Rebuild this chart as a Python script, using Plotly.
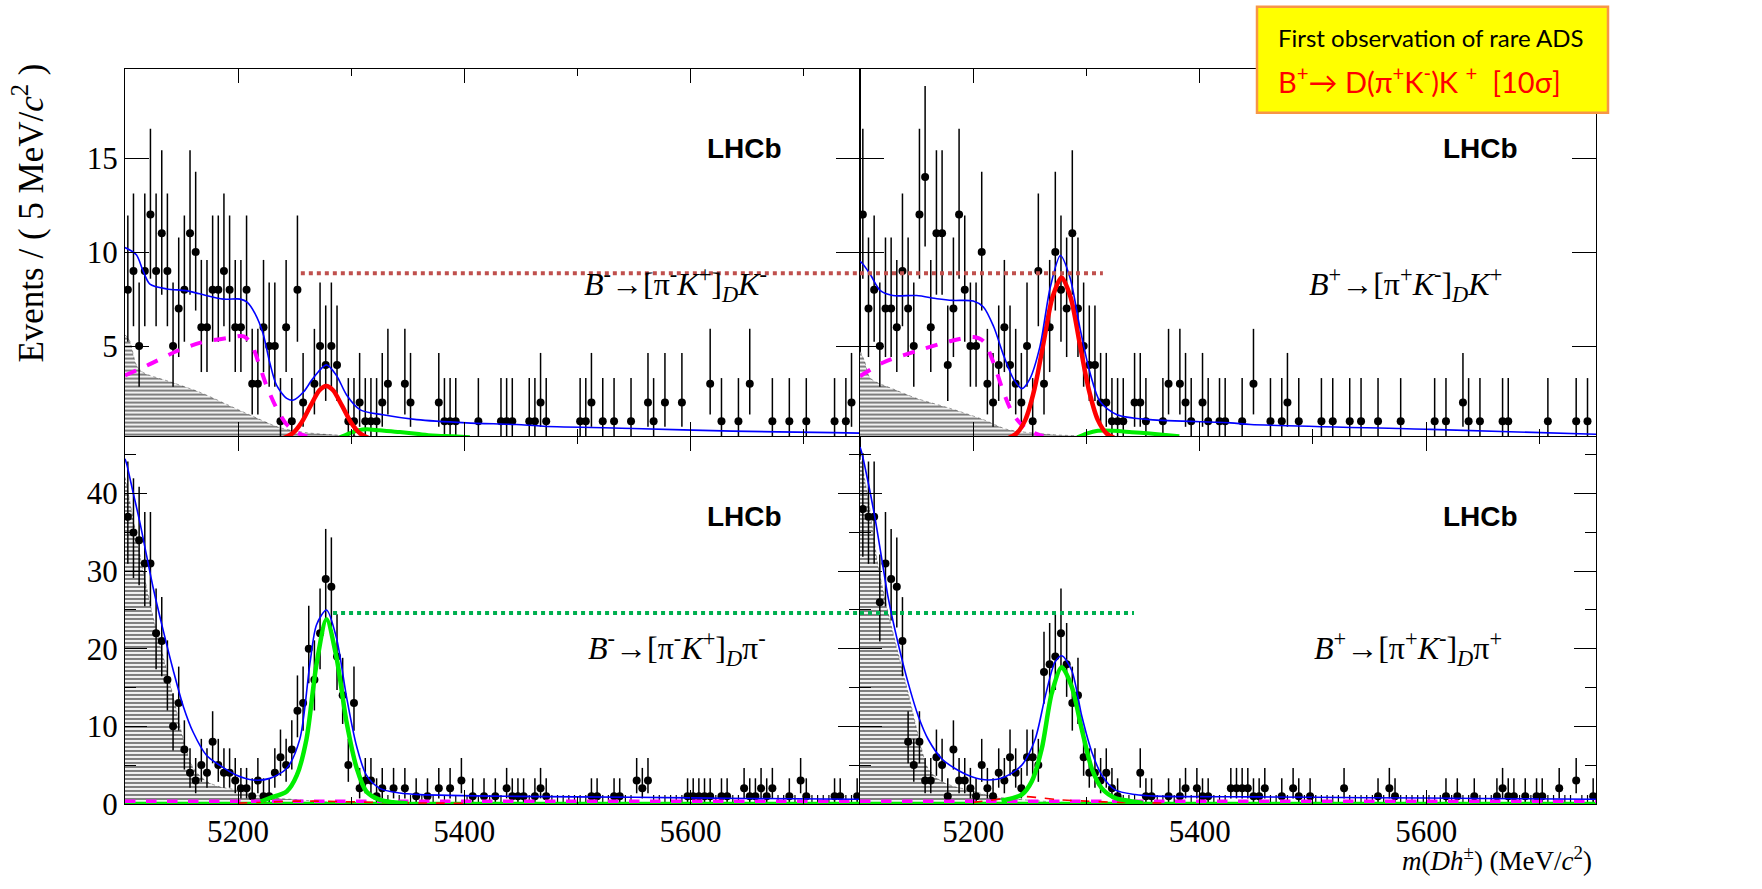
import math
import numpy as np
import plotly.graph_objects as go

W, H = 1762, 889

# 5 MeV/c^2 bins between 5100 and 5750 MeV/c^2
bin_centres = np.arange(5102.5, 5750.0, 5.0)

# ---- candidate counts per bin ----
counts_dk_minus = [
    8, 9, 5, 9, 12, 9, 11, 9, 5, 7,
    8, 11, 10, 6, 6, 8, 8, 9, 8, 6,
    6, 8, 3, 3, 6, 5, 5, 1, 6, 1,
    8, 2, 0, 3, 5, 4, 5, 4, 0, 1,
    1, 2, 1, 1, 1, 2, 3, 0, 0, 3,
    2, 0, 0, 0, 0, 2, 1, 1, 1, 0,
    0, 0, 1, 0, 0, 0, 1, 1, 1, 0,
    0, 1, 1, 2, 1, 0, 0, 0, 0, 0,
    1, 1, 2, 0, 1, 0, 1, 0, 0, 1,
    0, 0, 2, 1, 0, 2, 0, 0, 2, 0,
    0, 0, 0, 3, 0, 1, 0, 0, 1, 0,
    3, 0, 0, 0, 1, 0, 0, 1, 0, 0,
    1, 0, 0, 0, 0, 1, 0, 1, 2, 0,
]
counts_dk_plus = [
    12, 7, 8, 5, 7, 7, 6, 9, 7, 5,
    12, 14, 6, 11, 11, 4, 7, 12, 8, 5,
    5, 10, 3, 2, 4, 6, 4, 3, 2, 5,
    1, 9, 3, 6, 10, 8, 7, 11, 7, 5,
    4, 4, 2, 2, 1, 1, 1, 0, 2, 2,
    1, 0, 0, 1, 3, 0, 3, 2, 1, 0,
    2, 1, 0, 1, 1, 0, 0, 1, 0, 3,
    0, 0, 1, 0, 1, 2, 0, 1, 0, 0,
    0, 1, 0, 1, 0, 0, 1, 0, 1, 0,
    0, 1, 0, 0, 0, 1, 0, 0, 0, 0,
    0, 1, 0, 1, 0, 0, 2, 1, 0, 1,
    0, 0, 0, 1, 1, 0, 0, 0, 0, 0,
    0, 1, 0, 0, 0, 0, 1, 0, 1, 0,
]
counts_dpi_minus = [
    37, 35, 34, 31, 31, 22, 21, 16, 10, 13,
    7, 4, 3, 5, 4, 8, 5, 4, 4, 3,
    2, 2, 1, 3, 1, 1, 4, 6, 5, 7,
    12, 13, 20, 16, 22, 29, 28, 19, 14, 5,
    13, 2, 3, 3, 1, 2, 0, 2, 0, 2,
    0, 1, 0, 1, 0, 2, 0, 2, 0, 3,
    0, 1, 0, 1, 0, 1, 0, 2, 1, 1,
    1, 0, 1, 2, 1, 0, 0, 0, 0, 0,
    0, 0, 1, 1, 0, 0, 1, 1, 0, 0,
    3, 2, 3, 0, 0, 0, 0, 0, 0, 1,
    1, 1, 1, 1, 0, 1, 1, 0, 0, 2,
    1, 1, 2, 1, 2, 0, 0, 1, 0, 3,
    1, 0, 0, 0, 0, 1, 1, 0, 0, 1,
]
counts_dpi_plus = [
    38, 37, 37, 26, 31, 29, 28, 21, 8, 5,
    8, 3, 3, 6, 5, 1, 7, 3, 3, 2,
    1, 5, 2, 1, 4, 3, 6, 4, 2, 6,
    6, 5, 17, 18, 19, 22, 18, 13, 14, 6,
    4, 4, 3, 4, 2, 1, 0, 0, 0, 4,
    1, 1, 0, 0, 1, 0, 1, 2, 0, 2,
    1, 1, 0, 0, 0, 2, 2, 2, 2, 1,
    1, 2, 0, 0, 1, 0, 2, 1, 0, 1,
    0, 0, 0, 0, 0, 2, 0, 0, 0, 0,
    0, 1, 0, 2, 1, 0, 0, 0, 0, 0,
    0, 0, 0, 1, 0, 1, 0, 0, 1, 0,
    0, 0, 1, 2, 1, 1, 0, 1, 0, 1,
    1, 0, 0, 2, 0, 0, 3, 0, 0, 1,
]

# ---- fitted model components (mass, events per bin) ----
dk_minus_total_x = [5100, 5110, 5116, 5122, 5137, 5154, 5166, 5187, 5202, 5208, 5215, 5222, 5228,
                    5234, 5243, 5249, 5258, 5266, 5278, 5287, 5296, 5308, 5328, 5358, 5402, 5446,
                    5470, 5549, 5637, 5726, 5750]
dk_minus_total_y = [10.24, 9.86, 9.0, 8.3, 8.04, 7.95, 7.78, 7.5, 7.5, 7.34, 6.73, 5.69, 4.13,
                    2.92, 2.22, 2.13, 2.57, 3.26, 4.0, 3.44, 2.4, 1.61, 1.35, 1.09, 0.92, 0.83,
                    0.74, 0.62, 0.48, 0.40, 0.37]
dk_minus_sig_x = [5240, 5248, 5256, 5264, 5272, 5278, 5284, 5292, 5300, 5308, 5316]
dk_minus_sig_y = [0.10, 0.35, 0.93, 1.82, 2.65, 2.88, 2.65, 1.82, 0.93, 0.35, 0.10]
dk_minus_misid_x = [5290, 5298, 5306, 5314, 5325, 5343, 5360, 5372, 5390, 5405]
dk_minus_misid_y = [0.15, 0.35, 0.52, 0.58, 0.52, 0.43, 0.32, 0.25, 0.20, 0.15]
dk_minus_partial_x = [5100, 5122, 5146, 5166, 5190, 5205, 5212, 5219, 5225, 5234, 5243, 5252, 5261]
dk_minus_partial_y = [3.44, 4.04, 4.74, 5.17, 5.43, 5.52, 5.08, 3.96, 2.92, 1.70, 0.83, 0.40, 0.20]
dk_minus_dstar_x = [5100, 5104, 5110, 5116, 5140, 5166, 5190, 5210, 5237, 5260, 5284, 5310]
dk_minus_dstar_y = [5.6, 5.3, 4.0, 3.6, 3.1, 2.55, 1.9, 1.35, 0.66, 0.40, 0.28, 0.22]

dk_plus_total_x = [5100, 5101.5, 5109, 5118, 5129, 5150, 5168, 5182, 5200, 5209, 5218, 5227,
                   5235.5, 5243, 5250, 5259, 5268, 5277, 5285.5, 5294, 5303, 5312, 5327, 5356,
                   5427, 5445, 5604, 5750]
dk_plus_total_y = [9.5, 9.43, 8.82, 7.95, 7.69, 7.69, 7.52, 7.43, 7.4, 7.08, 6.04, 4.48,
                   3.26, 2.74, 3.26, 5.0, 8.12, 9.82, 8.64, 6.04, 3.61, 2.05, 1.35, 1.09,
                   0.92, 0.83, 0.57, 0.31]
dk_plus_sig_x = [5230, 5238, 5246, 5254, 5262, 5270, 5278, 5286, 5294, 5302, 5310, 5318, 5326]
dk_plus_sig_y = [0.08, 0.34, 1.08, 2.70, 5.15, 7.60, 8.65, 7.60, 5.15, 2.70, 1.08, 0.34, 0.08]
dk_plus_misid_x = [5292, 5300, 5310, 5324, 5340, 5356, 5370, 5382]
dk_plus_misid_y = [0.15, 0.35, 0.50, 0.50, 0.42, 0.35, 0.27, 0.20]
dk_plus_partial_x = [5100, 5120.6, 5150, 5179.4, 5200, 5209, 5217.8, 5226.6, 5235.5, 5247.3, 5262]
dk_plus_partial_y = [3.40, 4.13, 4.74, 5.26, 5.48, 5.26, 4.13, 2.57, 1.35, 0.57, 0.20]
dk_plus_dstar_x = [5100, 5104, 5109, 5130, 5150, 5179, 5209, 5230, 5268, 5300]
dk_plus_dstar_y = [4.74, 4.2, 3.3, 2.7, 2.22, 1.7, 1.09, 0.57, 0.30, 0.22]

dpi_minus_total_x = [5100, 5101.5, 5107.4, 5113.3, 5119.1, 5125, 5133.9, 5142.7, 5151.5, 5160.4,
                     5172.2, 5183.9, 5198.7, 5213.4, 5228.1, 5242.9, 5254.6, 5263.5, 5269.4,
                     5278.2, 5287, 5295.9, 5304.7, 5313.5, 5325.3, 5343, 5360.6, 5446, 5550,
                     5650, 5750]
dpi_minus_total_y = [44.5, 43.8, 40.0, 36.2, 32.0, 27.8, 22.3, 17.2, 12.6, 9.2,
                     6.24, 4.97, 3.7, 3.08, 3.29, 4.56, 8.35, 18.06, 23.1,
                     25.0, 21.4, 13.8, 7.5, 3.7, 2.0, 1.4, 1.2, 0.97, 0.85,
                     0.7, 0.6]
dpi_minus_sig_x = [5220, 5228, 5243, 5252, 5260.5, 5269.4, 5278.2, 5287, 5296, 5305, 5313.5,
                   5325, 5337, 5350]
dpi_minus_sig_y = [0.3, 0.76, 1.6, 3.7, 8.35, 18.06, 23.8, 18.9, 10.5, 4.56, 1.6, 0.54, 0.2, 0.05]
dpi_minus_dstar_x = [5100, 5107.4, 5116.2, 5125, 5133.9, 5142.7, 5151.5, 5160.4, 5172.2, 5183.9,
                     5198.7, 5213.4, 5231, 5251.7, 5272.4, 5300]
dpi_minus_dstar_y = [42.1, 36.6, 29.9, 24.0, 18.9, 13.8, 8.35, 4.6, 2.9, 2.2,
                     1.8, 1.2, 0.76, 0.55, 0.3, 0.1]
dpi_minus_kmisid_x = [5200, 5230, 5250, 5270, 5290, 5320, 5360, 5400]
dpi_minus_kmisid_y = [0.10, 0.25, 0.35, 0.35, 0.30, 0.20, 0.12, 0.08]

dpi_plus_total_x = [5100, 5101.5, 5107.4, 5113.3, 5119.2, 5125, 5133.8, 5142.7, 5151.5, 5160.3,
                    5172.2, 5183.9, 5198.7, 5213.4, 5228.1, 5242.9, 5254.6, 5263.5, 5272.3,
                    5278.2, 5287, 5295.9, 5304.7, 5313.6, 5325.3, 5343, 5360.6, 5450, 5550,
                    5650, 5750]
dpi_plus_total_y = [46.0, 45.3, 41.3, 36.8, 31.6, 26.5, 20.6, 15.5, 11.3, 8.3,
                    5.82, 4.56, 3.5, 3.08, 3.5, 5.0, 8.3, 13.8, 18.3,
                    19.1, 17.2, 11.3, 6.7, 3.7, 1.8, 1.2, 1.0, 0.9, 0.8,
                    0.7, 0.6]
dpi_plus_sig_x = [5225, 5242.9, 5251.7, 5260.5, 5269.4, 5278.2, 5287, 5295.9, 5304.7, 5313.6,
                  5325.3, 5337, 5350]
dpi_plus_sig_y = [0.4, 1.2, 2.9, 7.1, 14.3, 17.6, 15.1, 9.6, 4.56, 2.0, 0.76, 0.4, 0.1]
dpi_plus_dstar_x = [5100, 5107.4, 5116.2, 5125, 5134, 5143, 5152, 5160, 5172, 5184, 5199, 5213,
                    5231, 5252, 5272, 5300]
dpi_plus_dstar_y = [45.0, 39.2, 30.5, 24.5, 19.2, 14.0, 8.5, 4.6, 2.9, 2.2, 1.7, 1.1,
                    0.7, 0.45, 0.25, 0.1]
dpi_plus_kmisid_x = [5200, 5215, 5230, 5244, 5258, 5275, 5300, 5330, 5370]
dpi_plus_kmisid_y = [0.20, 0.45, 0.75, 0.95, 0.80, 0.55, 0.35, 0.20, 0.10]

# near-zero flat components of the D pi fits
flat_x = [5100, 5750]
flat_partial_y = [0.35, 0.35]
flat_misid_y = [0.05, 0.05]

# reference levels of the two peaks
dk_level = 8.87
dpi_level = 24.6


def poisson_cdf(n, mu):
    term = math.exp(-mu)
    total = term
    for k in range(1, n + 1):
        term *= mu / k
        total += term
    return total


def poisson_errors(n):
    """Central 68.3% Poisson interval, returned as (minus, plus)."""
    if n == 0:
        return 0.0, 1.1479
    a = (1 - 0.682689) / 2
    lo, hi = float(n), n + 10 * math.sqrt(n + 1) + 5
    for _ in range(80):
        mid = 0.5 * (lo + hi)
        if poisson_cdf(n, mid) > a:
            lo = mid
        else:
            hi = mid
    upper = 0.5 * (lo + hi)
    lo, hi = 0.0, float(n)
    for _ in range(80):
        mid = 0.5 * (lo + hi)
        if 1 - poisson_cdf(n - 1, mid) < a:
            lo = mid
        else:
            hi = mid
    lower = 0.5 * (lo + hi)
    return n - lower, upper - n


fig = go.Figure()

X_DOM = {"L": [125 / W, 860 / W], "R": [860 / W, 1596 / W]}
Y_DOM = {"T": [1 - 445 / H, 1 - 70 / H], "B": [1 - 820.5 / H, 1 - 446 / H]}


def refs(ax):
    return ("x" if ax == "1" else "x" + ax), ("y" if ax == "1" else "y" + ax)


def add_curve(ax, xs, ys, color, width, dash="solid"):
    xr, yr = refs(ax)
    fig.add_trace(go.Scatter(x=xs, y=ys, mode="lines", xaxis=xr, yaxis=yr,
                             line=dict(color=color, width=width, dash=dash, shape="spline",
                                       smoothing=0.8),
                             hoverinfo="skip", showlegend=False))


def add_hatch(ax, xs, ys):
    xr, yr = refs(ax)
    fig.add_trace(go.Scatter(x=xs, y=ys, mode="lines", xaxis=xr, yaxis=yr, fill="tozeroy",
                             line=dict(color="rgba(0,0,0,0.6)", width=0.6, dash="dot",
                                       shape="spline", smoothing=0.8),
                             fillcolor="white",
                             fillpattern=dict(shape="-", size=4, solidity=0.55,
                                              fgcolor="black", bgcolor="white"),
                             hoverinfo="skip", showlegend=False))


def add_data(ax, counts, show_zero):
    xr, yr = refs(ax)
    xs, ys, em, ep = [], [], [], []
    zx, zp = [], []
    for c, n in zip(bin_centres, counts):
        if n == 0:
            if show_zero:
                zx.append(c)
                zp.append(poisson_errors(0)[1])
            continue
        m, p = poisson_errors(n)
        xs.append(c)
        ys.append(n)
        em.append(m)
        ep.append(p)
    fig.add_trace(go.Scatter(x=xs, y=ys, mode="markers", xaxis=xr, yaxis=yr,
                             marker=dict(color="black", size=8),
                             error_y=dict(type="data", symmetric=False, array=ep, arrayminus=em,
                                          color="black", thickness=1.5, width=0),
                             hoverinfo="skip", showlegend=False))
    if zx:
        fig.add_trace(go.Scatter(x=zx, y=[0] * len(zx), mode="markers", xaxis=xr, yaxis=yr,
                                 marker=dict(color="black", size=1),
                                 error_y=dict(type="data", symmetric=False, array=zp,
                                              arrayminus=[0] * len(zx), color="black",
                                              thickness=1.2, width=0),
                                 hoverinfo="skip", showlegend=False))


BLUE, RED, GREEN, MAGENTA = "#0000ff", "#ff0000", "#00ee00", "#ff00ff"

# B- -> [pi- K+]_D K-
add_hatch("1", dk_minus_dstar_x, dk_minus_dstar_y)
add_data("1", counts_dk_minus, False)
add_curve("1", dk_minus_partial_x, dk_minus_partial_y, MAGENTA, 4, "dash")
add_curve("1", dk_minus_misid_x, dk_minus_misid_y, GREEN, 4)
add_curve("1", dk_minus_sig_x, dk_minus_sig_y, RED, 4.5)
add_curve("1", dk_minus_total_x, dk_minus_total_y, BLUE, 1.6)

# B+ -> [pi+ K-]_D K+
add_hatch("2", dk_plus_dstar_x, dk_plus_dstar_y)
add_data("2", counts_dk_plus, False)
add_curve("2", dk_plus_partial_x, dk_plus_partial_y, MAGENTA, 4, "dash")
add_curve("2", dk_plus_misid_x, dk_plus_misid_y, GREEN, 4)
add_curve("2", dk_plus_sig_x, dk_plus_sig_y, RED, 4.5)
add_curve("2", dk_plus_total_x, dk_plus_total_y, BLUE, 1.6)

# B- -> [pi- K+]_D pi-
add_hatch("3", dpi_minus_dstar_x, dpi_minus_dstar_y)
add_data("3", counts_dpi_minus, True)
add_curve("3", flat_x, flat_misid_y, GREEN, 3.5)
add_curve("3", flat_x, flat_partial_y, MAGENTA, 3.5, "dash")
add_curve("3", dpi_minus_kmisid_x, dpi_minus_kmisid_y, RED, 1.6, "dash")
add_curve("3", dpi_minus_sig_x, dpi_minus_sig_y, GREEN, 4.5)
add_curve("3", dpi_minus_total_x, dpi_minus_total_y, BLUE, 1.6)

# B+ -> [pi+ K-]_D pi+
add_hatch("4", dpi_plus_dstar_x, dpi_plus_dstar_y)
add_data("4", counts_dpi_plus, True)
add_curve("4", flat_x, flat_misid_y, GREEN, 3.5)
add_curve("4", flat_x, flat_partial_y, MAGENTA, 3.5, "dash")
add_curve("4", dpi_plus_kmisid_x, dpi_plus_kmisid_y, RED, 1.6, "dash")
add_curve("4", dpi_plus_sig_x, dpi_plus_sig_y, GREEN, 4.5)
add_curve("4", dpi_plus_total_x, dpi_plus_total_y, BLUE, 1.6)

# ---- axes ----
tick_font = dict(family="Liberation Serif", size=31, color="black")
frame = dict(showline=True, linecolor="black", linewidth=1.3, mirror="ticks", ticks="inside",
             tickcolor="black", tickwidth=1.4, showgrid=False, zeroline=False,
             tickfont=tick_font)


def xaxis(dom, labels, anchor):
    return dict(frame, domain=X_DOM[dom], range=[5100, 5750], tick0=5000, dtick=200,
                ticklen=14, showticklabels=labels, anchor=anchor,
                minor=dict(ticks="inside", dtick=100, tick0=5000, ticklen=7,
                           tickcolor="black", tickwidth=1.4, showgrid=False))


def yaxis_top(labels, anchor):
    return dict(frame, domain=Y_DOM["T"], range=[0.22, 19.76], tickvals=[5, 10, 15],
                ticklen=24, showticklabels=labels, anchor=anchor)


def yaxis_bottom(labels, anchor):
    return dict(frame, domain=Y_DOM["B"], range=[0, 47.3], tick0=0, dtick=10, ticklen=22,
                showticklabels=labels, anchor=anchor,
                minor=dict(ticks="inside", dtick=5, ticklen=11, tickcolor="black",
                           tickwidth=1.4, showgrid=False))


fig.update_layout(
    xaxis=xaxis("L", False, "y"), yaxis=yaxis_top(True, "x"),
    xaxis2=xaxis("R", False, "y2"), yaxis2=yaxis_top(False, "x2"),
    xaxis3=xaxis("L", True, "y3"), yaxis3=yaxis_bottom(True, "x3"),
    xaxis4=xaxis("R", True, "y4"), yaxis4=yaxis_bottom(False, "x4"),
)

# ---- reference levels and highlight box ----
shapes = [
    dict(type="line", xref="x", yref="y", x0=5255.5, x1=5750, y0=dk_level, y1=dk_level,
         line=dict(color="#c0504d", width=4, dash="dot")),
    dict(type="line", xref="x2", yref="y2", x0=5100, x1=5314.5, y0=dk_level, y1=dk_level,
         line=dict(color="#c0504d", width=4, dash="dot")),
    dict(type="line", xref="x3", yref="y3", x0=5284, x1=5750, y0=dpi_level, y1=dpi_level,
         line=dict(color="#00b050", width=4, dash="dot")),
    dict(type="line", xref="x4", yref="y4", x0=5100, x1=5342, y0=dpi_level, y1=dpi_level,
         line=dict(color="#00b050", width=4, dash="dot")),
    dict(type="rect", xref="paper", yref="paper", x0=1257 / W, x1=1608 / W,
         y0=1 - 115 / H, y1=1 - 7 / H, fillcolor="#ffff00",
         line=dict(color="#f79646", width=2.5), layer="above"),
]


def px(x, y):
    return x / W, 1 - y / H


annotations = []


def note(text, x, y, size, family, color="black", xanchor="center", yanchor="middle",
         angle=0):
    ax_, ay_ = px(x, y)
    annotations.append(dict(text=text, x=ax_, y=ay_, xref="paper", yref="paper",
                            showarrow=False, xanchor=xanchor, yanchor=yanchor,
                            textangle=angle,
                            font=dict(family=family, size=size, color=color)))


serif = "Liberation Serif"
for cx, cy in [(744, 152), (1480, 152), (744, 527), (1480, 527)]:
    note("<b>LHCb</b>", cx, cy, 28, "Liberation Sans")

note("<i>B</i><sup>-</sup>→[π<sup>-</sup><i>K</i><sup>+</sup>]<sub><i>D</i></sub><i>K</i><sup>-</sup>",
     675, 290, 32, serif)
note("<i>B</i><sup>+</sup>→[π<sup>+</sup><i>K</i><sup>-</sup>]<sub><i>D</i></sub><i>K</i><sup>+</sup>",
     1405, 290, 32, serif)
note("<i>B</i><sup>-</sup>→[π<sup>-</sup><i>K</i><sup>+</sup>]<sub><i>D</i></sub>π<sup>-</sup>",
     677, 662, 32, serif)
note("<i>B</i><sup>+</sup>→[π<sup>+</sup><i>K</i><sup>-</sup>]<sub><i>D</i></sub>π<sup>+</sup>",
     1408, 662, 32, serif)

note("Events / ( 5 MeV/<i>c</i><sup>2</sup> )", 29, 218, 35, serif, angle=-90)
note("<i>m</i>(<i>Dh</i><sup>±</sup>) (MeV/<i>c</i><sup>2</sup>)", 1594, 877, 27, serif,
     xanchor="right")

note("First observation of rare ADS", 1276, 38, 24, "Lato", xanchor="left")
note("B<sup>+</sup>→ D(π<sup>+</sup>K<sup>-</sup>)K <sup>+</sup>\u00a0\u00a0[10σ]", 1276, 82, 29,
     "Lato", color="#ff0000", xanchor="left")

fig.update_layout(
    width=W, height=H, margin=dict(l=0, r=0, t=0, b=0),
    paper_bgcolor="white", plot_bgcolor="white",
    shapes=shapes, annotations=annotations, showlegend=False,
)

fig.write_html("out.html")
